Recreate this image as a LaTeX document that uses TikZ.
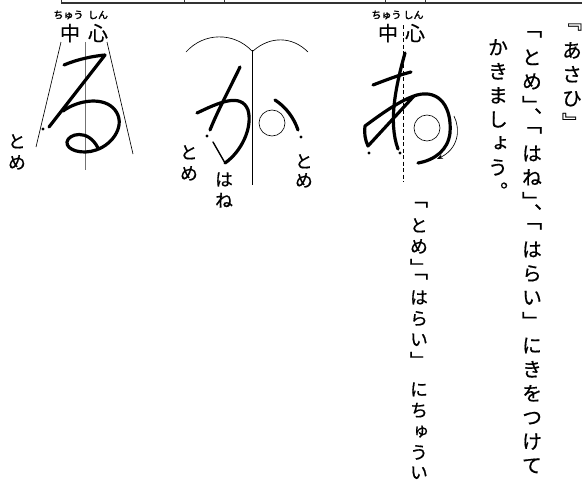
\documentclass[tikz,border=0pt]{standalone}
\usepackage{fontspec}
\newfontfamily\jpfont[FakeBold=0.6]{Noto Sans CJK JP}
\newfontfamily\tatefont[RawFeature=+vert, FakeBold=0.6]{Noto Sans CJK JP}
\newfontfamily\rubyfont[FakeBold=2]{Noto Sans CJK JP}
\newcommand\kagi[1]{\raisebox{5pt}{#1}}
\usetikzlibrary{arrows.meta}

\begin{document}
\begin{tikzpicture}[
		x=1pt, y=-1pt,
		fude/.style={line width=3.2pt, line cap=round, line join=round},
		fudethin/.style={line width=1.4pt, line cap=round},
		guide/.style={line width=0.65pt},
		frame/.style={line width=2pt, draw=black!80},
		tick/.style={line width=1pt, draw=black!80},
		tatecol/.style={anchor=north, inner sep=0pt, align=center, font=\tatefont\fontsize{20}{24}\selectfont},
		tatenote/.style={anchor=north, inner sep=0pt, align=center, font=\tatefont\fontsize{18}{21}\selectfont},
		kanji/.style={inner sep=0pt, font=\jpfont\fontsize{20}{24}\selectfont},
		ruby/.style={inner sep=0pt, font=\rubyfont\fontsize{10}{11}\selectfont}
	]
	\useasboundingbox (0,0) rectangle (582,480);
	
	% --- Top frame ---
	\draw[frame] (61,3) -- (582,3);
	\draw[tick] (61,0) -- (61,3);
	\draw[tick] (184,0) -- (184,3);
	\draw[tick] (224,0) -- (224,3);
	\draw[tick] (385,0) -- (385,3);
	\draw[tick] (425,0) -- (425,3);
	
	% --- Left: ru (x=85) ---
	\node[ruby] (rubyChuL) at (68.5,15) {ちゅう};
	\node[ruby] (rubyShinL) at (98,15) {しん};
	\node[kanji] (chuL) at (70,33) {中};
	\node[kanji] (shinL) at (98,33) {心};
	\draw[guide, draw=black!55] (85,42) -- (85,170);
	\draw[guide] (61,42) -- (36,147);
	\draw[guide] (107,42) -- (133,154);
	\draw[fude] (64,65) .. controls (78,59) and (94,56) .. (105,55) -- (49,127);
	\draw[fude] (63,111) .. controls (78,100) and (104,96) .. (115,110) .. controls (126,124) and (114,144) .. (96,150) .. controls (82,155) and (66,150) .. (67,142) .. controls (68,134) and (88,128) .. (98,148);
	\fill (43,129) circle (1.6pt);
	\node[tatenote] (tomeRu) at (17,132) {\rule{0pt}{15.84pt}と\\め};
	
	% --- Middle: ka (x=252) ---
	\draw[guide] (186,52) .. controls (204,32) and (234,32) .. (252,51);
	\draw[guide] (253,51) .. controls (270,36) and (292,36) .. (308,52);
	\draw[guide] (252,50) -- (252,185);
	\draw[fude] (197,113) .. controls (218,103) and (241,92) .. (248,110) .. controls (253,128) and (241,152) .. (225,163);
	\draw[fudethin] (225,163) -- (213,142);
	\draw[fude] (240,67) .. controls (230,88) and (218,110) .. (210,130);
	\draw[fude] (275,100) .. controls (286,107) and (294,118) .. (298,130);
	\draw[guide] (272,123) circle (13pt);
	\fill (207,136) circle (1.6pt);
	\fill (301,137) circle (1.6pt);
	\node[tatenote] (tomeKaL) at (189,143) {\rule{0pt}{15.84pt}と\\め};
	\node[tatenote] (haneKa) at (224,170) {\rule{0pt}{15.84pt}は\\ね};
	\node[tatenote] (tomeKaR) at (304,152) {\rule{0pt}{15.84pt}と\\[-2pt]め};
	
	% --- Right: a (x=403) ---
	\node[ruby] (rubyChuR) at (386.5,15) {ちゅう};
	\node[ruby] (rubyShinR) at (413.5,15) {しん};
	\node[kanji] (chuR) at (388,33) {中};
	\node[kanji] (shinR) at (415,33) {心};
	\draw[guide, dashed, dash pattern=on 4pt off 2.5pt] (403,25) -- (403,182);
	\draw[fude] (373,85) .. controls (386,80) and (399,75) .. (411,72);
	\draw[fude] (405,53) .. controls (396,85) and (388,122) .. (398,149);
	\draw[fude] (414,96) -- (368,146) .. controls (365,140) and (364,132) .. (365,126) .. controls (380,115) and (400,100) .. (417,95) .. controls (440,89) and (452,108) .. (450,133) .. controls (448,150) and (435,160) .. (418,163);
	\draw[guide] (427,128) circle (13pt);
	\draw[guide, -{Stealth[length=6pt, width=4.5pt]}] (454,116) .. controls (461,130) and (458,149) .. (437,159);
	\fill (369,153) circle (1.6pt);
	\fill (400,153) circle (1.6pt);
	\node[tatenote] (noteA) at (419,195) {\rule{0pt}{15.84pt}\kagi{「}\\と\\め\\」\\[-12pt]\kagi{「}\\は\\ら\\い\\」\\[8pt]に\\ち\\ゅ\\う\\[-1pt]い};
	
	% --- Instructions (vertical) ---
	\node[tatecol] (title) at (572,16) {\rule{0pt}{17.6pt}\kagi{『}\\あ\\さ\\ひ\\』};
	\node[tatecol] (lineA) at (532,23) {\rule{0pt}{17.6pt}\kagi{「}\\と\\め\\」\\[-12pt]、\\[-12pt]\kagi{「}\\は\\ね\\」\\[-12pt]、\\[-12pt]\kagi{「}\\は\\ら\\い\\」\\に\\き\\を\\つ\\け\\て};
	\node[tatecol] (lineB) at (498,37) {\rule{0pt}{17.6pt}か\\き\\ま\\し\\ょ\\う\\。};
\end{tikzpicture}
\end{document}
